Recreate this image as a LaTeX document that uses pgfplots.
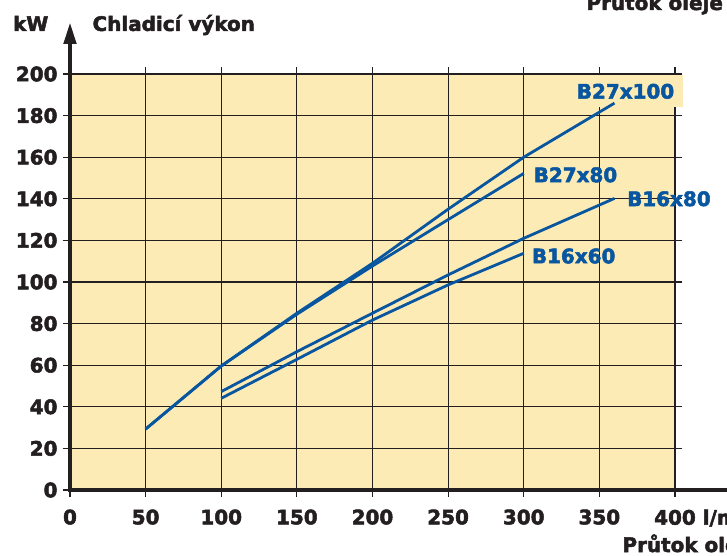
\documentclass[border=0pt]{standalone}
\usepackage{fontspec}
\setmainfont{DejaVu Sans}[BoldFeatures={FakeBold=2.5}]
\usepackage{pgfplots}
\pgfplotsset{compat=1.18}
\usetikzlibrary{arrows.meta}

\definecolor{bgyel}{RGB}{253,235,181}
\definecolor{lblue}{RGB}{8,86,160}
\definecolor{ink}{RGB}{35,31,32}

\begin{document}
\begin{tikzpicture}
\begin{axis}[
  at={(70bp,66bp)}, anchor=south west,
  scale only axis,
  width=605bp, height=416bp,
  xmin=0, xmax=400, ymin=0, ymax=200,
  xtick={0,50,...,400},
  xticklabels={0,50,100,150,200,250,300,350,{400\rlap{ l/min}}},
  ytick={0,20,...,200},
  /pgf/number format/assume math mode=true,
  tick align=outside, tick pos=both,
  major tick length=7bp,
  grid=major,
  grid style={ink, line width=1.1bp},
  every tick/.style={ink, line width=1.1bp},
  axis line style={ink, line width=1.1bp},
  axis background/.style={fill=bgyel},
  tick label style={font=\bfseries\fontsize{20}{22}\selectfont, text=ink},
  xticklabel style={yshift=-9bp},
  yticklabel style={xshift=-2bp},
  clip=false,
]
\node[fill=bgyel, inner xsep=9bp, inner ysep=8.5bp, text height=15bp, text depth=0pt,
      font=\bfseries\fontsize{20}{22}\selectfont, text=lblue]
  at (axis cs:367.3,191.8) {B27x100};

% B27x100
\addplot[lblue, line width=2.8bp, no marks] coordinates {(50,29.3)(100,59.6)(150,85)(200,109)(250,135)(300,160)(360,186)};
% B27x80
\addplot[lblue, line width=2.8bp, no marks] coordinates {(50,29.3)(100,59.6)(150,84.5)(200,107.7)(250,130)(300,152.2)};
% B16x80
\addplot[lblue, line width=2.8bp, no marks] coordinates {(100,47.3)(150,66.5)(200,85)(250,103.4)(300,121)(360,140.2)};
% B16x60
\addplot[lblue, line width=2.8bp, no marks] coordinates {(100,44.1)(150,62.8)(200,81.7)(250,98.6)(300,113.8)};

\begin{scope}[font=\bfseries\fontsize{20}{22}\selectfont, text=lblue]
\node at (axis cs:334.2,151.5) {B27x80};
\node at (axis cs:396,140) {B16x80};
\node at (axis cs:333,112.5) {B16x60};
\end{scope}

% thick axes
\draw[ink, line width=4.5bp] (axis cs:0,0) -- (axis cs:450,0);
\draw[ink, line width=4.5bp, -{Triangle[length=22bp,width=12bp]}]
  (axis cs:0,-1) -- (axis cs:0,225);

\begin{scope}[font=\bfseries\fontsize{20}{22}\selectfont, text=ink]
\node[anchor=base east] at (axis cs:-12,220.7) {kW};
\node[anchor=base west] at (axis cs:12.6,220.7) {Chladicí výkon};
\end{scope}
\end{axis}
\node[anchor=base west, font=\bfseries\fontsize{20}{22}\selectfont, text=ink] at (619bp,4bp) {Průtok oleje};
\node[anchor=base west, font=\bfseries\fontsize{20}{22}\selectfont, text=ink] at (583bp,546bp) {Průtok oleje};
\pgfresetboundingbox
\path[use as bounding box] (0,0) rectangle (727bp,556bp);
\end{tikzpicture}
\end{document}
